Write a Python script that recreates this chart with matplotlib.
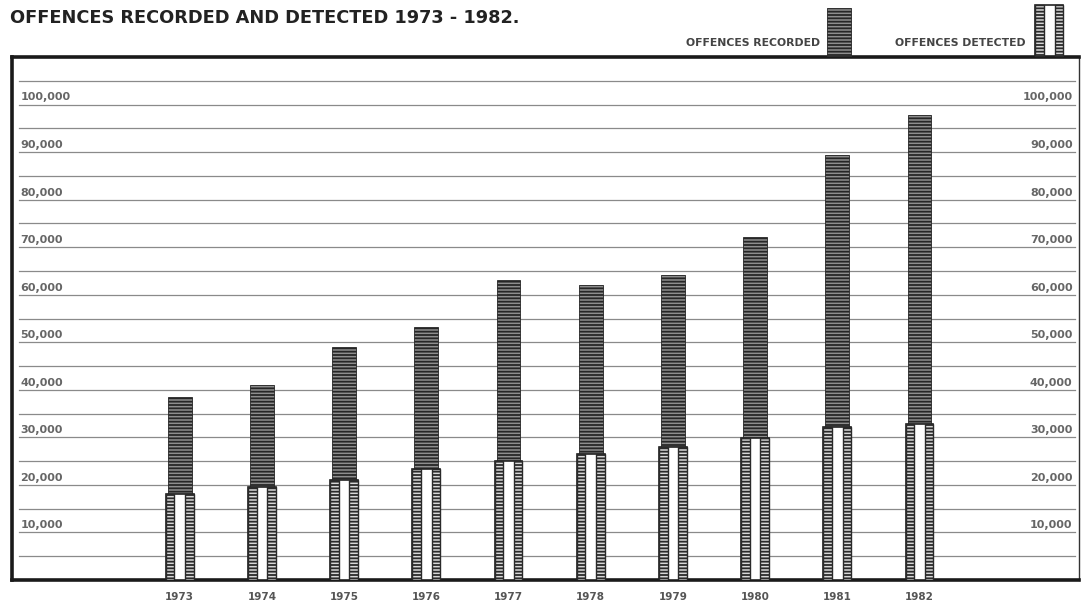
import matplotlib

matplotlib.use("Agg")
import matplotlib.pyplot as plt
import matplotlib.transforms as mtransforms
from matplotlib.patches import Rectangle

years = ["1973", "1974", "1975", "1976", "1977", "1978", "1979", "1980", "1981", "1982"]
recorded = [38400, 41000, 49000, 53200, 63000, 62000, 64100, 72100, 89300, 97900]
detected = [18100, 19500, 21000, 23300, 25000, 26500, 27900, 29800, 32100, 32800]
label_values = [10000, 20000, 30000, 40000, 50000, 60000, 70000, 80000, 90000, 100000]
grid_values = list(range(5000, 110000, 5000))

W, H = 1082, 606
plt.rcParams["hatch.linewidth"] = 1.3

fig = plt.figure(figsize=(W / 100, H / 100), dpi=100)
fig.patch.set_facecolor("white")

# frame region in pixels: left 12, right 1079, top 57, bottom 580
ax = fig.add_axes([12 / W, (H - 580) / H, (1079 - 12) / W, (580 - 57) / H])
ax.set_ylim(0, 110000)
ax.set_xlim(-2.04, 10.94)

trans = mtransforms.blended_transform_factory(ax.transAxes, ax.transData)
for v in grid_values:
    ax.axhline(v, xmin=0.007, xmax=0.996, color="#8a8a8a", lw=0.9, zorder=1)

for v in label_values:
    txt = f"{v:,}"
    ax.annotate(txt, xy=(0.008, v), xycoords=trans, xytext=(0, 1.5),
                textcoords="offset points", ha="left", va="bottom",
                fontsize=8, color="#666666", fontweight="bold")
    ax.annotate(txt, xy=(0.994, v), xycoords=trans, xytext=(0, 1.5),
                textcoords="offset points", ha="right", va="bottom",
                fontsize=8, color="#666666", fontweight="bold")

x = list(range(len(years)))
rec_w = 0.29
det_w = 0.34
strip_w = 0.105

rec_face = "#8e8e8e"
rec_edge = "#262626"
det_face = "#d8d8d8"
det_edge = "#2a2a2a"

# offences recorded: dense horizontal hatching
ax.bar(x, recorded, width=rec_w, facecolor=rec_face, edgecolor=rec_edge,
       hatch="-----", linewidth=0.6, zorder=2)

# offences detected: open bar with hatched sides
ax.bar(x, detected, width=det_w, facecolor="white", edgecolor="#222222",
       linewidth=1.2, zorder=3)
left_x = [i - det_w / 2 for i in x]
right_x = [i + det_w / 2 - strip_w for i in x]
ax.bar(left_x, detected, width=strip_w, align="edge", facecolor=det_face,
       edgecolor=det_edge, hatch="-----", linewidth=1.0, zorder=4)
ax.bar(right_x, detected, width=strip_w, align="edge", facecolor=det_face,
       edgecolor=det_edge, hatch="-----", linewidth=1.0, zorder=4)

ax.set_xticks(x)
ax.set_xticklabels(years, fontsize=7.5, color="#555555", fontweight="bold")
ax.tick_params(axis="x", length=0, pad=9)
ax.set_yticks([])

for side in ["left", "top", "bottom"]:
    ax.spines[side].set_linewidth(2.6)
    ax.spines[side].set_color("#1a1a1a")
ax.spines["right"].set_linewidth(1.0)
ax.spines["right"].set_color("#333333")

fig.text(10 / W, 1 - 18 / H, "OFFENCES RECORDED AND DETECTED 1973 - 1982.",
         fontsize=12.8, fontweight="bold", color="#222222", ha="left", va="center")

# legend
fig.text(820 / W, 1 - 43 / H, "OFFENCES RECORDED", fontsize=7.8,
         fontweight="bold", color="#444444", ha="right", va="center")
fig.text(1026 / W, 1 - 43 / H, "OFFENCES DETECTED", fontsize=7.8,
         fontweight="bold", color="#444444", ha="right", va="center")


def fig_rect(x0, y_top, w, h, **kw):
    r = Rectangle((x0 / W, 1 - (y_top + h) / H), w / W, h / H,
                  transform=fig.transFigure, **kw)
    fig.patches.append(r)


fig_rect(827, 8, 24, 48, facecolor=rec_face, edgecolor=rec_edge,
         hatch="-----", linewidth=0.6)
fig_rect(1035, 5, 28, 51, facecolor="white", edgecolor="#222222", linewidth=1.2)
fig_rect(1035, 5, 8.5, 51, facecolor=det_face, edgecolor=det_edge,
         hatch="-----", linewidth=1.0)
fig_rect(1054.5, 5, 8.5, 51, facecolor=det_face, edgecolor=det_edge,
         hatch="-----", linewidth=1.0)

fig.savefig("out.png", dpi=100, facecolor="white")
